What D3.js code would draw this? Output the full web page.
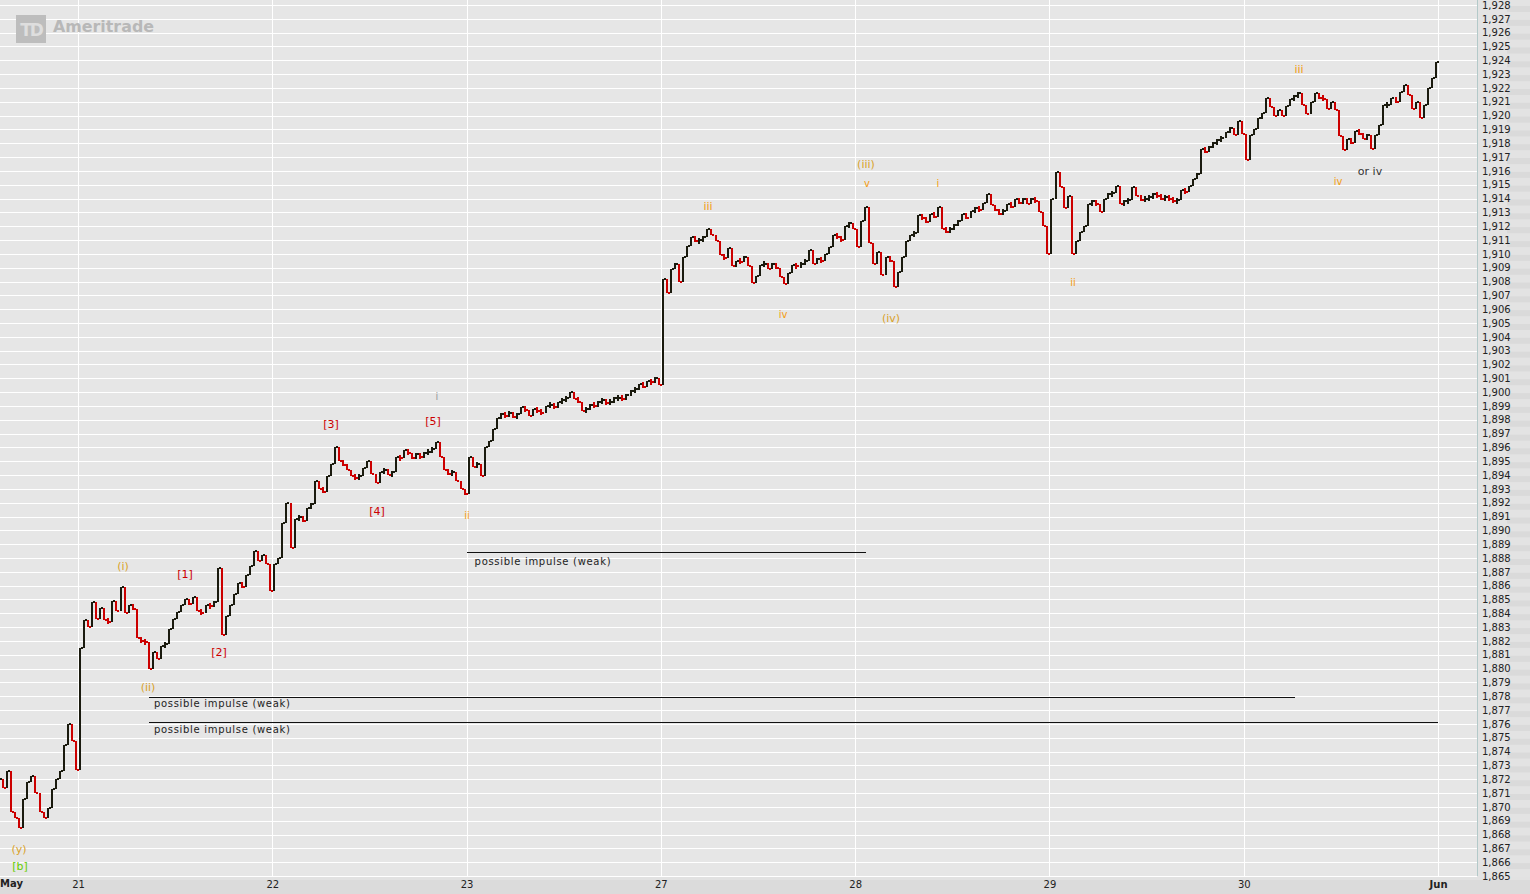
<!DOCTYPE html>
<html><head><meta charset="utf-8">
<script src="https://cdn.jsdelivr.net/npm/d3@7"></script>
<style>html,body{margin:0;padding:0;background:#e6e6e6;overflow:hidden}svg{display:block}</style>
</head><body><svg id="c" width="1530" height="894"></svg>
<script>
// ---- data (closing prices per bar; 48 bars per trading day) ----
const dayLabels = ["21","22","23","27","28","29","30","Jun"];
const monthLabelStart = "May";
const barsPerDay = 48;
const may20Start = 28; // first visible bar slot in May 20 session
const may20 = [1872.0,1871.4,1872.6,1869.6,1869.2,1868.5,1870.6,1871.8,1872.2,1871.0,1869.6,1869.2,1869.9,1871.3,1872.0,1872.6,1874.5,1876.0,1874.8,1872.7];
const may21 = [1881.5,1883.5,1883.0,1884.8,1883.6,1884.4,1883.5,1883.4,1884.9,1884.2,1885.9,1884.0,1884.6,1884.3,1882.2,1882.0,1881.9,1880.0,1881.2,1880.7,1881.6,1881.8,1882.9,1883.6,1884.1,1884.6,1885.0,1884.7,1885.2,1884.2,1884.0,1884.6,1884.5,1884.8,1887.3,1882.4,1883.8,1884.6,1885.4,1886.2,1885.9,1886.8,1887.4,1888.5,1887.8,1888.2,1887.6,1885.6];
const may22 = [1887.6,1888.0,1890.5,1892.0,1888.7,1890.8,1891.0,1890.7,1891.6,1891.9,1893.6,1893.0,1892.8,1893.9,1894.8,1896.0,1895.0,1894.7,1894.4,1893.9,1893.8,1893.9,1894.5,1895.0,1894.1,1893.4,1894.2,1894.4,1894.0,1894.2,1895.3,1895.2,1895.8,1895.6,1895.2,1895.5,1895.3,1895.6,1895.7,1895.9,1896.4,1895.3,1894.4,1894.1,1894.2,1893.6,1893.0,1892.6];
const may23 = [1895.3,1894.6,1894.8,1893.9,1896.0,1896.5,1897.3,1898.1,1898.4,1898.3,1898.5,1898.2,1898.4,1898.9,1898.7,1898.3,1898.8,1898.6,1898.5,1899.0,1899.1,1898.9,1899.3,1899.4,1899.6,1900.0,1899.5,1899.3,1898.6,1898.8,1899.1,1899.0,1899.3,1899.4,1899.2,1899.3,1899.6,1899.6,1899.5,1899.8,1900.1,1900.2,1900.6,1900.4,1900.8,1900.7,1901.0,1900.5];
const may27 = [1908.2,1907.2,1908.9,1909.3,1908.0,1909.8,1910.6,1911.2,1910.9,1911.0,1911.2,1911.8,1911.4,1910.9,1909.9,1909.7,1910.4,1909.1,1909.5,1909.4,1909.8,1909.1,1907.9,1908.4,1909.2,1909.3,1908.9,1909.3,1909.0,1908.3,1907.8,1908.6,1909.2,1909.1,1909.3,1909.5,1910.3,1909.3,1909.6,1909.5,1910.0,1910.5,1911.4,1911.2,1911.0,1912.0,1912.2,1911.8];
const may28 = [1910.5,1912.4,1913.4,1910.8,1909.3,1910.1,1908.5,1909.8,1909.5,1907.6,1908.7,1909.8,1910.9,1911.4,1911.5,1912.8,1912.6,1912.3,1912.9,1912.7,1913.4,1911.8,1911.6,1911.8,1912.1,1912.4,1912.9,1912.6,1913.1,1913.3,1913.2,1913.7,1914.3,1913.5,1913.2,1912.9,1913.1,1913.6,1913.4,1914.0,1913.7,1914.0,1913.6,1914.0,1913.8,1913.0,1912.0,1910.0];
const may29 = [1914.0,1915.9,1914.8,1913.3,1914.2,1910.0,1910.9,1911.6,1912.0,1913.6,1913.8,1913.6,1913.0,1914.0,1914.3,1914.4,1914.9,1913.6,1913.8,1913.9,1914.8,1914.2,1913.9,1914.0,1914.1,1914.3,1914.2,1914.0,1914.1,1914.0,1913.8,1913.9,1914.6,1914.5,1914.9,1915.4,1915.8,1917.6,1917.4,1917.7,1918.0,1918.2,1918.4,1918.8,1919.1,1918.6,1919.6,1918.7];
const may30 = [1916.8,1918.6,1919.0,1919.8,1920.2,1921.3,1920.6,1920.0,1920.4,1920.0,1920.7,1921.2,1921.4,1921.6,1920.8,1920.1,1921.0,1921.6,1921.3,1921.2,1920.5,1921.0,1920.4,1918.5,1917.5,1918.3,1918.0,1918.9,1918.7,1918.3,1918.6,1917.6,1918.6,1919.3,1920.8,1920.8,1921.3,1921.0,1921.7,1922.2,1921.5,1920.5,1921.0,1919.8,1920.8,1922.0,1922.7,1923.9];
const sessions = [
  {day:-1, start:may20Start, closes:may20},
  {day:0, start:0, closes:may21},
  {day:1, start:0, closes:may22},
  {day:2, start:0, closes:may23},
  {day:3, start:0, closes:may27},
  {day:4, start:0, closes:may28},
  {day:5, start:0, closes:may29},
  {day:6, start:0, closes:may30}
];
const priceMin = 1865, priceMax = 1928;

// wave annotations: [text, dayIndex, price, colour key]
const waveLabels = [
  ["(y)",-0.3035,1866.95,"gold"],
  ["[b]",-0.2985,1865.72,"green"],
  ["(i)",0.2316,1887.42,"gold"],
  ["(ii)",0.3603,1878.60,"gold"],
  ["[1]",0.5507,1886.84,"red"],
  ["[2]",0.7257,1881.20,"red"],
  ["[3]",1.3022,1897.69,"red"],
  ["[4]",1.5390,1891.33,"red"],
  ["[5]",1.8272,1897.84,"red"],
  ["i",1.8478,1899.65,"grey"],
  ["ii",2.0022,1891.11,"orange"],
  ["iii",3.2426,1913.39,"orange"],
  ["iv",3.6286,1905.58,"orange"],
  ["(iii)",4.0558,1916.43,"gold"],
  ["v",4.0609,1915.12,"orange"],
  ["(iv)",4.1845,1905.36,"gold"],
  ["i",4.4264,1915.12,"orange"],
  ["ii",5.1212,1907.96,"orange"],
  ["iii",6.2844,1923.30,"orange"],
  ["iv",6.4852,1915.20,"orange"],
  ["or iv",6.6499,1915.99,"dark"]
];
// trend notes: [from dayIndex, to dayIndex, price of line, text price]
const impulseNotes = [
  [2.0, 4.056, 1888.43, 1887.78],
  [0.365, 6.264, 1877.95, 1877.51],
  [0.365, 7.0, 1876.14, 1875.63]
];
const impulseText = "possible impulse (weak)";

// ---- drawing ----
const W = 1530, H = 894, plotRight = 1477, plotBottom = 876;
const svg = d3.select("#c");
const x = d3.scaleLinear().domain([-0.40146, 7.2006]).range([0, plotRight]);
const y = d3.scaleLinear().domain([priceMin, priceMax]).range([plotBottom, 5]);
const colours = {gold:"#d9a22a", orange:"#f39c12", red:"#cc0000", green:"#66cc00", grey:"#9a9a9a", dark:"#333333"};

svg.append("rect").attr("x",0).attr("y",0).attr("width",W).attr("height",H).attr("fill","#e6e6e6");
// right axis panel stripes
const ticks = d3.range(priceMin, priceMax + 1);
const axisPanel = svg.append("g");
axisPanel.append("rect").attr("x",plotRight).attr("y",0).attr("width",W-plotRight).attr("height",plotBottom+2).attr("fill","#e3e3e3");
axisPanel.selectAll("rect.s").data(ticks).join("rect").attr("class","s")
  .attr("x",plotRight+30).attr("width",W-plotRight-30)
  .attr("y",d=>y(d)+1).attr("height",6).attr("fill","#dadada");
// bottom axis band
svg.append("rect").attr("x",0).attr("y",plotBottom+1).attr("width",W).attr("height",H-plotBottom-1).attr("fill","#dbdbdb");
svg.append("rect").attr("x",0).attr("y",plotBottom+1).attr("width",W).attr("height",3).attr("fill","#e2e2e2");

// gridlines
const grid = svg.append("g").attr("shape-rendering","crispEdges");
grid.selectAll("line.h").data(ticks).join("line").attr("class","h")
  .attr("x1",0).attr("x2",plotRight).attr("y1",d=>Math.round(y(d))+0.5).attr("y2",d=>Math.round(y(d))+0.5)
  .attr("stroke","#ffffff").attr("stroke-width",1);
const dayIdx = d3.range(0, dayLabels.length);
grid.selectAll("line.v").data(dayIdx).join("line").attr("class","v")
  .attr("x1",d=>Math.round(x(d))+0.5).attr("x2",d=>Math.round(x(d))+0.5).attr("y1",0).attr("y2",plotBottom)
  .attr("stroke","#ffffff").attr("stroke-width",1.4);

// watermark
const wm = svg.append("g");
wm.append("rect").attr("x",16).attr("y",15).attr("width",30).attr("height",28).attr("fill","#bdbdbd");
wm.append("text").attr("x",31).attr("y",36).attr("text-anchor","middle").attr("font-family","DejaVu Sans").attr("font-weight","bold")
  .attr("font-size",17).attr("fill","#dedede").attr("letter-spacing",-2).text("TD");
wm.append("text").attr("x",53).attr("y",32).attr("font-family","DejaVu Sans").attr("font-weight","bold")
  .attr("font-size",15).attr("fill","#b8b8b8").attr("textLength",101).attr("lengthAdjust","spacingAndGlyphs").text("Ameritrade");

// bars
const bars = [];
let prev = null;
sessions.forEach(s => {
  s.closes.forEach((c, i) => {
    const t = s.day + (s.start + i + 0.5) / barsPerDay;
    const o = prev === null ? c : prev;
    bars.push({t, o, c});
    prev = c;
  });
});
const minBar = 6;
const gBars = svg.append("g").attr("shape-rendering","crispEdges");
gBars.selectAll("rect.b").data(bars).join("rect").attr("class","b")
  .attr("x",d=>Math.round(x(d.t))-1).attr("width",2)
  .attr("y",d=>{const a=y(Math.max(d.o,d.c)), b=y(Math.min(d.o,d.c)); return (b-a<minBar)?(a+b)/2-minBar/2:a;})
  .attr("height",d=>Math.max(minBar, y(Math.min(d.o,d.c))-y(Math.max(d.o,d.c))))
  .attr("fill",d=>d.c>=d.o?"#1a1a0e":"#cc0000");
gBars.selectAll("rect.k").data(bars).join("rect").attr("class","k")
  .attr("x",d=>Math.round(x(d.t))+1).attr("width",2)
  .attr("y",d=>Math.round(y(d.c))-1).attr("height",2)
  .attr("fill",d=>d.c>=d.o?"#1a1a0e":"#cc0000");

// impulse notes
const gN = svg.append("g");
gN.selectAll("line").data(impulseNotes).join("line")
  .attr("x1",d=>x(d[0])).attr("x2",d=>x(d[1])).attr("y1",d=>Math.round(y(d[2]))+0.5).attr("y2",d=>Math.round(y(d[2]))+0.5)
  .attr("stroke","#111").attr("stroke-width",1).attr("shape-rendering","crispEdges");
gN.selectAll("text").data(impulseNotes).join("text")
  .attr("x",d=>x(d[0])+(d[0]<1?5:8)).attr("y",d=>y(d[3])).attr("dominant-baseline","central")
  .attr("font-family","DejaVu Sans").attr("font-size",10).attr("fill","#222")
  .attr("textLength",136).attr("lengthAdjust","spacing").text(impulseText);

// wave labels
svg.append("g").selectAll("text").data(waveLabels).join("text")
  .attr("x",d=>x(d[1])).attr("y",d=>y(d[2])).attr("text-anchor","middle").attr("dominant-baseline","central")
  .attr("font-family","DejaVu Sans").attr("font-size",d=>d[0].length<=2 && d[0][0]!=="["?10:11)
  .attr("fill",d=>colours[d[3]]).text(d=>d[0]);

// right axis
svg.append("line").attr("x1",plotRight+0.5).attr("x2",plotRight+0.5).attr("y1",0).attr("y2",plotBottom)
  .attr("stroke","#b3c9c9").attr("stroke-width",1);
const yAxis = d3.axisRight(y).tickValues(ticks).tickSize(0).tickPadding(5).tickFormat(d3.format(","));
const ya = svg.append("g").attr("transform",`translate(${plotRight},0)`).call(yAxis);
ya.select(".domain").remove();
ya.selectAll("text").attr("font-family","DejaVu Sans").attr("font-size",10).attr("fill","#222");

// bottom axis
const xAxis = d3.axisBottom(x).tickValues(dayIdx).tickSize(0).tickPadding(5).tickFormat((d,i)=>dayLabels[i]);
const xa = svg.append("g").attr("transform",`translate(0,${plotBottom})`).call(xAxis);
xa.select(".domain").remove();
xa.selectAll("text").attr("font-family","DejaVu Sans").attr("font-size",10).attr("fill","#222")
  .attr("font-weight",(d,i)=>dayLabels[i]==="Jun"?"bold":"normal");
svg.append("text").attr("x",0).attr("y",plotBottom+11).attr("font-family","DejaVu Sans").attr("font-size",10)
  .attr("font-weight","bold").attr("fill","#222").text(monthLabelStart);
</script></body></html>
